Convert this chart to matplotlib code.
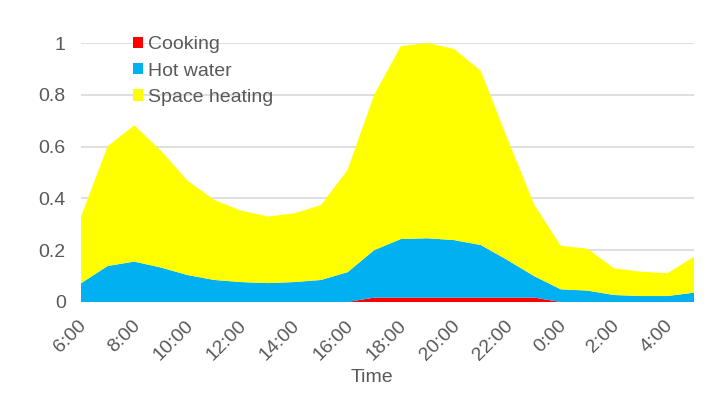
import matplotlib
matplotlib.use("Agg")
import matplotlib.pyplot as plt
import matplotlib.transforms as mtransforms
import numpy as np

hours = ["6:00", "7:00", "8:00", "9:00", "10:00", "11:00", "12:00", "13:00", "14:00", "15:00",
         "16:00", "17:00", "18:00", "19:00", "20:00", "21:00", "22:00", "23:00", "0:00", "1:00",
         "2:00", "3:00", "4:00", "5:00"]
cooking = [0, 0, 0, 0, 0, 0, 0, 0, 0, 0,
           0, 0.017, 0.017, 0.017, 0.017, 0.017, 0.017, 0.017, 0, 0,
           0, 0, 0, 0]
hot_water_cum = [0.072, 0.139, 0.156, 0.133, 0.104, 0.085, 0.077, 0.073, 0.077, 0.085,
                 0.115, 0.200, 0.243, 0.246, 0.239, 0.220, 0.162, 0.100, 0.049, 0.044,
                 0.027, 0.023, 0.023, 0.036]
total = [0.330, 0.602, 0.682, 0.584, 0.468, 0.394, 0.353, 0.330, 0.342, 0.374,
         0.510, 0.800, 0.988, 1.000, 0.977, 0.892, 0.630, 0.377, 0.217, 0.206,
         0.130, 0.117, 0.111, 0.175]
hot_water = [h - c for h, c in zip(hot_water_cum, cooking)]
space_heating = [t - h for t, h in zip(total, hot_water_cum)]
tick_labels = hours[::2]

plt.rcParams['font.family'] = ['Liberation Sans', 'DejaVu Sans']
txt = '#595959'

fig = plt.figure(figsize=(7.26, 3.97), dpi=100)
ax = fig.add_axes([81/726, 1 - 302/397, (694 - 81)/726, (302 - 43)/397])

x = np.arange(len(hours))
ax.stackplot(x, cooking, hot_water, space_heating,
             colors=['#FF0000', '#00B0F0', '#FFFF00'],
             labels=['Cooking', 'Hot water', 'Space heating'], linewidth=0)

ax.set_xlim(0, len(hours) - 1)
ax.set_ylim(0, 1)
ax.set_yticks([0, 0.2, 0.4, 0.6, 0.8, 1.0])
ax.set_yticklabels(['0', '0.2', '0.4', '0.6', '0.8', '1'])
ax.set_xticks(x[::2])
ax.set_xticklabels(tick_labels, rotation=45, ha='right', rotation_mode='anchor')
ax.tick_params(axis='both', length=0, colors=txt, labelsize=14)
ax.tick_params(axis='y', pad=11)
ax.tick_params(axis='x', pad=11)
offset = mtransforms.ScaledTranslation(-3/100, 0, fig.dpi_scale_trans)
for lab in ax.get_xticklabels():
    lab.set_transform(lab.get_transform() + offset)
ax.grid(axis='y', color='#D9D9D9', linewidth=1.2)
ax.set_axisbelow(True)
for s in ax.spines.values():
    s.set_visible(False)
ax.axhline(0, color='#D9D9D9', linewidth=1.5, zorder=0.5)

fig.text(372/726, 1 - 378/397, 'Time', ha='center', va='center', color=txt, fontsize=14)

leg = ax.legend(loc='upper left', bbox_to_anchor=(0.0843, 1.026), frameon=False,
                fontsize=14, handlelength=0.52, handleheight=0.52, handletextpad=0.27,
                labelspacing=0.48, borderaxespad=0, borderpad=0)
for t in leg.get_texts():
    t.set_color(txt)

fig.savefig('out.png', dpi=100)
